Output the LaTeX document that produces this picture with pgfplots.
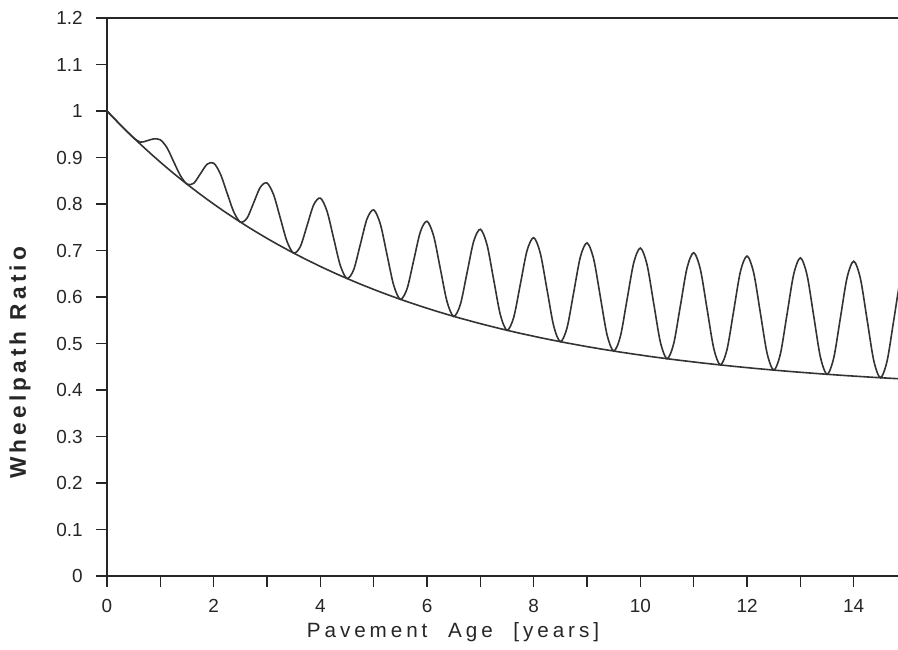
\documentclass[border=0pt]{standalone}
\usepackage{fontspec}
\setmainfont{Liberation Sans}
\usepackage{pgfplots}
\usepackage{pgfplotstable}
\pgfplotsset{compat=1.18}
\pgfplotstableread{
x env wave
0 1.0000 1.0000
0.125 0.9850 0.9850
0.25 0.9704 0.9704
0.375 0.9561 0.9561
0.5 0.9422 0.9422
0.625 0.9287 0.9330
0.75 0.9155 0.9360
0.875 0.9026 0.9400
1 0.8900 0.9380
1.125 0.8777 0.9210
1.25 0.8657 0.8910
1.375 0.8541 0.8614
1.5 0.8427 0.8427
1.625 0.8316 0.8445
1.75 0.8208 0.8648
1.875 0.8102 0.8853
2 0.7999 0.8879
2.125 0.7898 0.8649
2.25 0.7800 0.8240
2.375 0.7705 0.7834
2.5 0.7612 0.7612
2.625 0.7521 0.7695
2.75 0.7432 0.8027
2.875 0.7346 0.8362
3 0.7261 0.8451
3.125 0.7179 0.8195
3.25 0.7099 0.7694
3.375 0.7021 0.7195
3.5 0.6944 0.6944
3.625 0.6870 0.7085
3.75 0.6797 0.7532
3.875 0.6727 0.7982
4 0.6657 0.8127
4.125 0.6590 0.7845
4.25 0.6524 0.7259
4.375 0.6460 0.6675
4.5 0.6398 0.6398
4.625 0.6337 0.6587
4.75 0.6277 0.7132
4.875 0.6220 0.7680
5 0.6163 0.7873
5.125 0.6108 0.7568
5.25 0.6054 0.6909
5.375 0.6002 0.6252
5.5 0.5950 0.5950
5.625 0.5901 0.6175
5.75 0.5852 0.6787
5.875 0.5805 0.7401
6 0.5758 0.7628
6.125 0.5713 0.7309
6.25 0.5669 0.6604
6.375 0.5626 0.5900
6.5 0.5584 0.5584
6.625 0.5543 0.5840
6.75 0.5504 0.6519
6.875 0.5465 0.7198
7 0.5427 0.7457
7.125 0.5390 0.7123
7.25 0.5354 0.6369
7.375 0.5319 0.5616
7.5 0.5284 0.5284
7.625 0.5251 0.5561
7.75 0.5218 0.6278
7.875 0.5187 0.6997
8 0.5156 0.7276
8.125 0.5125 0.6935
8.25 0.5096 0.6156
8.375 0.5067 0.5377
8.5 0.5039 0.5039
8.625 0.5011 0.5337
8.75 0.4985 0.6100
8.875 0.4959 0.6863
9 0.4933 0.7163
9.125 0.4909 0.6813
9.25 0.4884 0.5999
9.375 0.4861 0.5187
9.5 0.4838 0.4838
9.625 0.4815 0.5152
9.75 0.4794 0.5944
9.875 0.4772 0.6735
10 0.4752 0.7052
10.125 0.4731 0.6694
10.25 0.4711 0.5861
10.375 0.4692 0.5029
10.5 0.4673 0.4673
10.625 0.4655 0.4999
10.75 0.4637 0.5812
10.875 0.4620 0.6626
11 0.4603 0.6953
11.125 0.4586 0.6592
11.25 0.4570 0.5745
11.375 0.4554 0.4898
11.5 0.4539 0.4539
11.625 0.4524 0.4875
11.75 0.4509 0.5709
11.875 0.4495 0.6544
12 0.4481 0.6881
12.125 0.4467 0.6516
12.25 0.4454 0.5654
12.375 0.4441 0.4792
12.5 0.4428 0.4428
12.625 0.4416 0.4776
12.75 0.4404 0.5634
12.875 0.4392 0.6492
13 0.4381 0.6841
13.125 0.4370 0.6470
13.25 0.4359 0.5589
13.375 0.4348 0.4708
13.5 0.4338 0.4338
13.625 0.4328 0.4690
13.75 0.4318 0.5553
13.875 0.4308 0.6416
14 0.4299 0.6769
14.125 0.4290 0.6398
14.25 0.4281 0.5516
14.375 0.4272 0.4634
14.5 0.4264 0.4264
14.625 0.4256 0.4622
14.75 0.4248 0.5498
14.875 0.4240 0.6374
15 0.4232 0.6732
}\data

\begin{document}
\begin{tikzpicture}
\begin{axis}[
  scale only axis, width=593.25pt, height=418.5pt,
  xmin=0, xmax=14.83, ymin=0, ymax=1.2,
  axis x line=box, axis y line=left,
  axis line style={-, line width=1.4pt, black!85},
  every outer y axis line/.append style={-},
  xtick={0,1,...,14},
  xticklabels={0,,2,,4,,6,,8,,10,,12,,14},
  ytick={0,0.1,0.2,0.3,0.4,0.5,0.6,0.7,0.8,0.9,1,1.1,1.2},
  xtick pos=bottom, ytick pos=left,
  tick align=outside, major tick length=8.25pt,
  tick style={line width=1.1pt, black!85},
  /pgf/number format/assume math mode=true,
  tick label style={font=\fontsize{14.2}{16}\selectfont, black!85},
  yticklabel style={xshift=-6.5pt},
  xticklabel style={yshift=-6pt},
  xlabel={\addfontfeatures{LetterSpace=19}Pavement\hspace{1em}Age\hspace{1em}[years]},
  ylabel={\bfseries\addfontfeatures{LetterSpace=18}Wheelpath\hspace{0.5em}Ratio},
  xlabel style={at={(axis description cs:0.4374,-0.111)}, anchor=base, font=\fontsize{15.5}{17}\selectfont, black!85},
  ylabel style={at={(axis description cs:-0.110,0.382)}, anchor=center, font=\fontsize{17}{19}\selectfont, black!85},
]
\addplot[black!80, line width=1.2pt, smooth] table[x=x, y=env] {\data};
\addplot[black!80, line width=1.2pt, smooth] table[x=x, y=wave] {\data};
\coordinate (sw) at (rel axis cs:0,0);
\coordinate (ne) at (rel axis cs:1,1);
\end{axis}
\pgfresetboundingbox
\path ([xshift=-80.25pt,yshift=-54.75pt]sw) rectangle ([yshift=13.5pt]ne);
\end{tikzpicture}
\end{document}
